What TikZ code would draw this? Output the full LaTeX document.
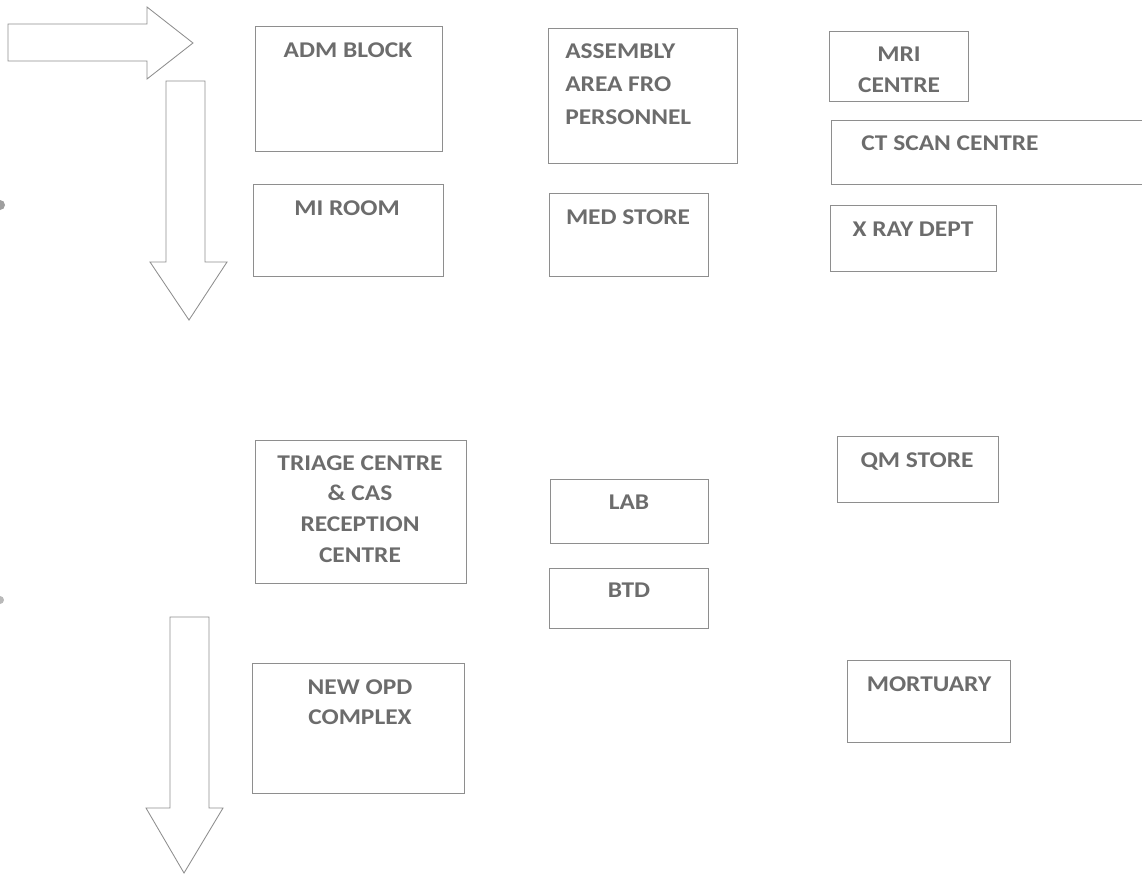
\documentclass[tikz,border=0pt]{standalone}
\usepackage{fontspec}
\setmainfont{Carlito}
\newfontfamily\planfont[FakeStretch=1.13]{Carlito}
\usetikzlibrary{positioning, fit}

\definecolor{planline}{HTML}{8E8E8E}
\definecolor{plantext}{HTML}{6C6C6C}

\begin{document}
\begin{tikzpicture}[
  x=0.025cm, y=-0.025cm,
  %% ── Room styles ─────────────────────────────────────────────────────────
  room/.style={
    draw=planline, line width=0.6pt, inner sep=0pt
  },
  roomtext/.style={
    text=plantext, inner sep=0pt, anchor=north, align=center,
    font=\planfont\bfseries\fontsize{16}{22}\selectfont
  },
  %% ── Flow arrow style ────────────────────────────────────────────────────
  flow/.style={
    draw=planline, line width=0.6pt, fill=white, line join=miter
  },
]

\useasboundingbox (0,0) rectangle (1142,873);

%% ═══════════════════════════════════════════════════════════════════════════
%% FLOW ARROWS
%% ═══════════════════════════════════════════════════════════════════════════

\draw[flow] (8,24) -- (147,24) -- (147,7) -- (193,43)
  -- (147,79) -- (147,61) -- (8,61) -- cycle;

\draw[flow] (166,81) -- (205,81) -- (205,262) -- (227,262)
  -- (189,320) -- (150,262) -- (166,262) -- cycle;

\draw[flow] (170,617) -- (209,617) -- (209,808) -- (223,808)
  -- (184,873) -- (146,808) -- (170,808) -- cycle;

%% — margin dots ─────────────────────────────────────────────────────────────
\fill[gray!75] (0,205) circle (5);
\fill[gray!55] (0,600) circle (4);

%% ═══════════════════════════════════════════════════════════════════════════
%% ROOMS
%% ═══════════════════════════════════════════════════════════════════════════

%% — left column ─────────────────────────────────────────────────────────────
\node[room, fit={(255,26) (442,151)}] (adm) {};
\node[roomtext] (admtxt) at (348,42) {ADM BLOCK};

\node[room, fit={(253,184) (443,276)}] (mi) {};
\node[roomtext] (mitxt) at (347,200) {MI ROOM};

\node[room, fit={(255,440) (466,583)}] (triage) {};
\node[roomtext] (triagetxt) at (360,455)
  {TRIAGE CENTRE\\\&~CAS\\RECEPTION\\CENTRE};

\node[room, fit={(252,663) (464,793)}] (opd) {};
\node[roomtext] (opdtxt) at (360,679) {NEW OPD\\COMPLEX};

%% — middle column ───────────────────────────────────────────────────────────
\node[room, fit={(548,28) (737,163)}] (asm) {};
\node[roomtext, anchor=north west, align=left,
      font=\planfont\bfseries\fontsize{16}{23.5}\selectfont]
  (asmtxt) at (565,43) {ASSEMBLY\\AREA FRO\\PERSONNEL};

\node[room, fit={(549,193) (708,276)}] (med) {};
\node[roomtext] (medtxt) at (628,209) {MED STORE};

\node[room, fit={(550,479) (708,543)}] (lab) {};
\node[roomtext] (labtxt) at (629,495) {LAB};

\node[room, fit={(549,568) (708,628)}] (btd) {};
\node[roomtext] (btdtxt) at (629,583) {BTD};

%% — right column ────────────────────────────────────────────────────────────
\node[room, fit={(829,31) (968,101)}] (mri) {};
\node[roomtext] (mritxt) at (899,47) {MRI\\CENTRE};

\node[room, fit={(831,120) (1152,184)}] (ct) {};
\node[roomtext] (cttxt) at (950,135) {CT SCAN CENTRE};

\node[room, fit={(830,205) (996,271)}] (xray) {};
\node[roomtext] (xraytxt) at (913,222) {X RAY DEPT};

\node[room, fit={(837,436) (998,502)}] (qm) {};
\node[roomtext] (qmtxt) at (917,452) {QM STORE};

\node[room, fit={(847,660) (1010,742)}] (mort) {};
\node[roomtext] (morttxt) at (929,676) {MORTUARY};

\end{tikzpicture}
\end{document}
